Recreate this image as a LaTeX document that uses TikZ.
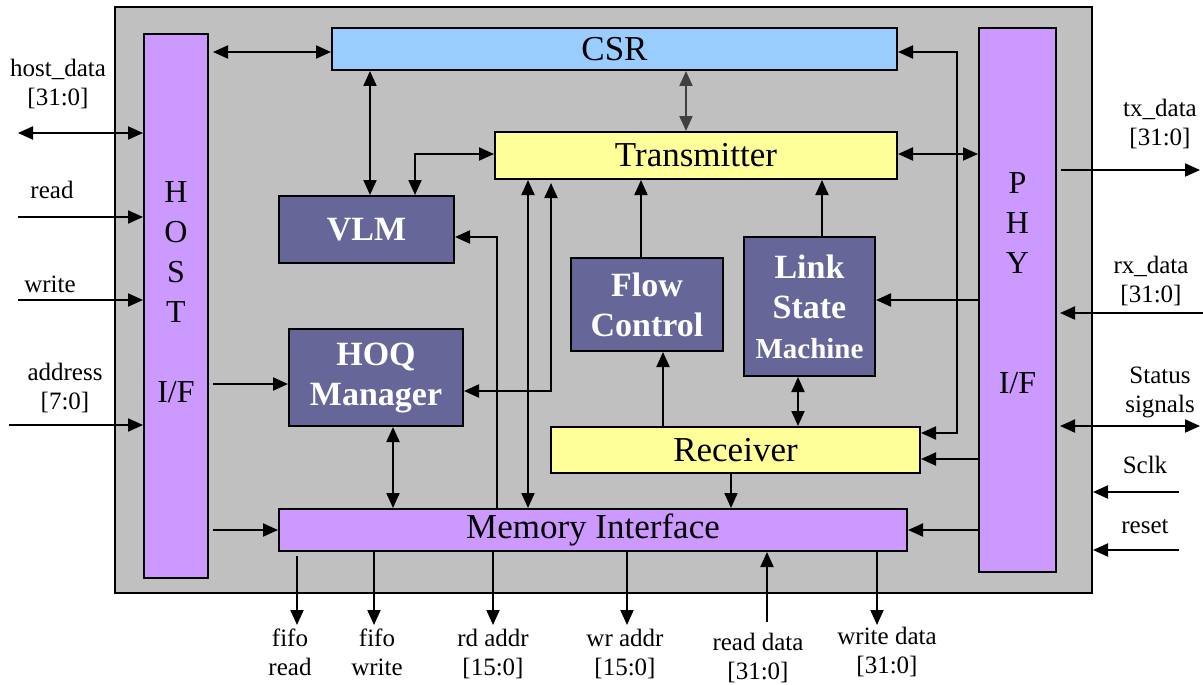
\documentclass[tikz,border=0pt]{standalone}
\usepackage{fontspec}
\setmainfont{Liberation Serif}
\usetikzlibrary{arrows.meta}
\definecolor{boxgray}{HTML}{C0C0C0}
\definecolor{lilac}{HTML}{CC99FF}
\definecolor{skyblue}{HTML}{99CCFF}
\definecolor{paleyellow}{HTML}{FFFF99}
\definecolor{slate}{HTML}{666699}
\definecolor{csrtx}{HTML}{404040}
\tikzset{
  blk/.style={draw=black, line width=2pt, inner sep=0pt, anchor=center},
  lbox/.style={blk, fill=lilac},
  dbox/.style={blk, fill=slate, text=white, font=\fontsize{34}{40}\selectfont\bfseries, align=center},
  ybox/.style={blk, fill=paleyellow, font=\fontsize{35}{40}\selectfont},
  lbl/.style={font=\fontsize{25}{29}\selectfont, align=center, inner sep=0pt},
  conn/.style={line width=2pt},
  arr/.style={conn, -{Triangle[length=15pt,width=13pt]}},
  dbl/.style={conn, {Triangle[length=15pt,width=13pt]}-{Triangle[length=15pt,width=13pt]}},
}
\begin{document}
\begin{tikzpicture}[x=1pt, y=-1pt]
\useasboundingbox (0,0) rectangle (1203,685);
% outer box
\node[blk, fill=boxgray, minimum width=977pt, minimum height=586pt] (outer) at (603.5,300) {};
% blocks
\node[lbox, minimum width=64pt, minimum height=544pt] (host) at (176,306) {};
\node[font=\fontsize{32}{40}\selectfont, align=center, inner sep=0pt] (hostlbl) at (176,292) {H\\O\\S\\T\\[40pt]I/F};
\node[lbox, minimum width=77pt, minimum height=544pt] (phy) at (1017.5,300) {};
\node[font=\fontsize{32}{40}\selectfont, align=center, inner sep=0pt] (phylbl) at (1017.5,283) {P\\H\\Y\\[80pt]I/F};
\node[blk, fill=skyblue, minimum width=565pt, minimum height=42pt, font=\fontsize{35}{40}\selectfont] (csr) at (614.5,49) {CSR};
\node[ybox, minimum width=402pt, minimum height=47pt] (tx) at (696,155.5) {Transmitter};
\node[dbox, minimum width=175pt, minimum height=67pt] (vlm) at (366.5,229.5) {VLM};
\node[dbox, minimum width=174pt, minimum height=97pt] (hoq) at (376,377.5) {HOQ\\Manager};
\node[dbox, minimum width=152pt, minimum height=93pt] (flow) at (647,304.5) {Flow\\Control};
\node[dbox, minimum width=131pt, minimum height=139pt] (lsm) at (809.5,306.5) {Link\\State\\{\fontsize{29}{36}\selectfont Machine}};
\node[ybox, minimum width=369pt, minimum height=46pt] (rx) at (735.5,450) {Receiver};
\node[lbox, minimum width=628pt, minimum height=42pt, font=\fontsize{35}{40}\selectfont] (mem) at (593,530) {\raisebox{-4pt}{Memory Interface}};

% free-end coordinates
\coordinate (hd) at (18,133);
\coordinate (rd) at (18,217);
\coordinate (wr) at (18,300);
\coordinate (ad) at (9,425);
\coordinate (txd) at (1200,170);
\coordinate (rxd) at (1203,313);
\coordinate (st) at (1200,426);
\coordinate (sc) at (1179,492);
\coordinate (rs) at (1179,550);
\coordinate (fr) at (297,625);
\coordinate (fw) at (374,625);
\coordinate (ra) at (493,625);
\coordinate (wa) at (627,625);
\coordinate (rdd) at (767,622);
\coordinate (wdd) at (877,625);

% left side signals
\draw[dbl] (hd) -- (host.west |- hd);
\draw[arr] (rd) -- (host.west |- rd);
\draw[arr] (wr) -- (host.west |- wr);
\draw[arr] (ad) -- (host.west |- ad);
% host connections
\draw[dbl, shorten <=4pt] (host.east |- 0,52) -- (csr.west |- 0,52);
\draw[arr, shorten <=4pt] (host.east |- 0,384) -- (hoq.west |- 0,384);
\draw[arr, shorten <=4pt] (host.east |- 0,530) -- (mem.west);
% CSR connections
\draw[dbl] (csr.south -| 370,0) -- (vlm.north -| 370,0);
\draw[dbl, color=csrtx] (csr.south -| 686,0) -- (tx.north -| 686,0);
\draw[dbl] (csr.east |- 0,52) -| (957,433) -- (rx.east |- 0,433);
% transmitter connections
\draw[dbl] (tx.west |- 0,154) -| (vlm.north -| 415,0);
\draw[dbl] (tx.south -| 528,0) -- (mem.north -| 528,0);
\draw[dbl, shorten >=3pt] (hoq.east |- 0,391) -| (tx.south -| 551,0);
\draw[arr] (mem.north -| 497,0) |- (vlm.east |- 0,237);
\draw[arr] (flow.north -| 641,0) -- (tx.south -| 641,0);
\draw[arr] (lsm.north -| 822,0) -- (tx.south -| 822,0);
\draw[dbl] (tx.east |- 0,154) -- (phy.west |- 0,154);
% receiver connections
\draw[arr] (rx.north -| 663,0) -- (flow.south -| 663,0);
\draw[dbl] (lsm.south -| 798,0) -- (rx.north -| 798,0);
\draw[arr] (rx.south -| 731,0) -- (mem.north -| 731,0);
\draw[dbl] (hoq.south -| 393,0) -- (mem.north -| 393,0);
% PHY connections
\draw[arr] (phy.west |- 0,300) -- (lsm.east |- 0,300);
\draw[arr] (phy.west |- 0,459) -- (rx.east |- 0,459);
\draw[arr] (phy.west |- 0,530) -- (mem.east);
% right side signals
\draw[arr, shorten <=4pt] (phy.east |- txd) -- (txd);
\draw[arr, shorten >=3pt] (rxd) -- (phy.east |- rxd);
\draw[dbl, shorten <=3pt] (phy.east |- st) -- (st);
\draw[arr] (sc) -- (outer.east |- sc);
\draw[arr] (rs) -- (outer.east |- rs);
% bottom signals
\draw[arr, shorten <=4pt] (mem.south -| fr) -- (fr);
\draw[arr] (mem.south -| fw) -- (fw);
\draw[arr] (mem.south -| ra) -- (ra);
\draw[arr] (mem.south -| wa) -- (wa);
\draw[arr] (rdd) -- (mem.south -| rdd);
\draw[arr] (mem.south -| wdd) -- (wdd);

% labels
\node[lbl] (lhd) at (58,84) {host\_data\\{[}31:0{]}};
\node[lbl, anchor=base] (lrd) at (52,198) {read};
\node[lbl, anchor=base] (lwr) at (50,292) {write};
\node[lbl] (lad) at (65,388) {address\\{[}7:0{]}};
\node[lbl] (ltx) at (1160,124) {tx\_data\\{[}31:0{]}};
\node[lbl] (lrx) at (1151,281) {rx\_data\\{[}31:0{]}};
\node[lbl] (lst) at (1160,392) {Status\\signals};
\node[lbl, anchor=base] (lsc) at (1145,473) {Sclk};
\node[lbl, anchor=base] (lrs) at (1145,533) {reset};
\node[lbl] (lfr) at (290,652) {fifo\\read};
\node[lbl] (lfw) at (377,652) {fifo\\write};
\node[lbl] (lra) at (493,654) {rd addr\\{[}15:0{]}};
\node[lbl] (lwa) at (625,654) {wr addr\\{[}15:0{]}};
\node[lbl] (lrdd) at (758,658) {read data\\{[}31:0{]}};
\node[lbl] (lwdd) at (887,652) {write data\\{[}31:0{]}};
\end{tikzpicture}
\end{document}
